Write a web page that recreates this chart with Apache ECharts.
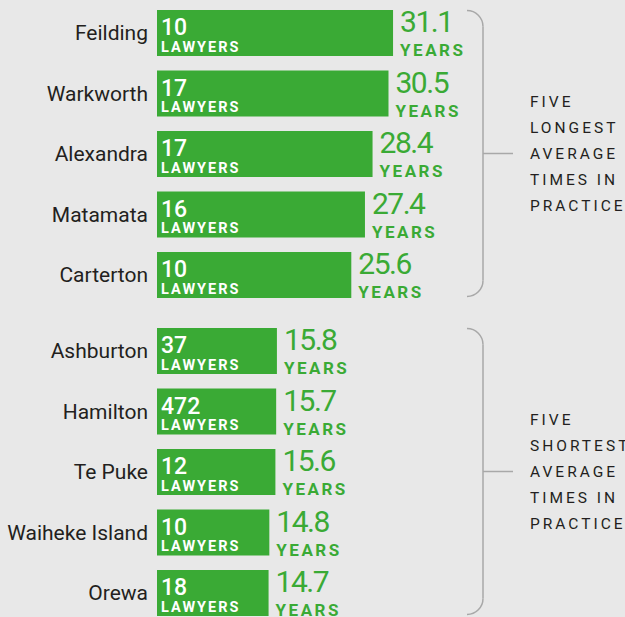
<!DOCTYPE html>
<html>
<head>
<meta charset="utf-8">
<script src="https://cdn.jsdelivr.net/npm/echarts@6/dist/echarts.min.js"></script>
<style>
  html, body { margin: 0; padding: 0; background: #e8e8e8; }
  #chart { width: 625px; height: 617px; }
  /* tracking for the spaced labels (SVG renderer) */
  #chart text[style*="30px"] { letter-spacing: -1.5px; }
  #chart text[style*="14.5px"] { letter-spacing: 2px; }
  #chart text[style*="17px"] { letter-spacing: 2.5px; }
  #chart text[style*="15.5px"] { letter-spacing: 3px; }
</style>
</head>
<body>
<div id="chart"></div>
<script>
// Towns with the five longest average times in practice
const longestTowns = ['Feilding', 'Warkworth', 'Alexandra', 'Matamata', 'Carterton'];
const longestYears = [31.1, 30.5, 28.4, 27.4, 25.6];
const longestLawyers = [10, 17, 17, 16, 10];

// Towns with the five shortest average times in practice
const shortestTowns = ['Ashburton', 'Hamilton', 'Te Puke', 'Waiheke Island', 'Orewa'];
const shortestYears = [15.8, 15.7, 15.6, 14.8, 14.7];
const shortestLawyers = [37, 472, 12, 10, 18];

const longestCaption = ['FIVE', 'LONGEST', 'AVERAGE', 'TIMES IN', 'PRACTICE'];
const shortestCaption = ['FIVE', 'SHORTEST', 'AVERAGE', 'TIMES IN', 'PRACTICE'];

const GREEN = '#3aaa35';
const INK = '#231f20';
const BRACKET = '#a8a8a8';
const PITCH = 60.5;         // distance between neighbouring bar centres
const BAR = 46;             // bar thickness
const GRID_LEFT = 157;
const X_MAX = 40;
const PX_PER_YEAR = 7.59;
const firstCentres = [33, 351];   // centre of the first bar in each group

const groups = [
  { towns: longestTowns, years: longestYears, lawyers: longestLawyers, caption: longestCaption },
  { towns: shortestTowns, years: shortestYears, lawyers: shortestLawyers, caption: shortestCaption }
];

const grid = [], xAxis = [], yAxis = [], series = [], graphic = [];

groups.forEach((g, i) => {
  // categories sit on the grid edges (boundaryGap: false), one pitch apart
  grid.push({ left: GRID_LEFT, top: firstCentres[i], width: X_MAX * PX_PER_YEAR, height: PITCH * (g.towns.length - 1) });
  xAxis.push({ type: 'value', gridIndex: i, min: 0, max: X_MAX, show: false });
  yAxis.push({
    type: 'category', gridIndex: i, inverse: true, boundaryGap: false, data: g.towns,
    axisLine: { show: false }, axisTick: { show: false }, splitLine: { show: false },
    axisLabel: { margin: 9, color: INK, fontFamily: 'Roboto', fontSize: 21 }
  });
  // bars with the average years label on the right
  series.push({
    type: 'bar', name: 'Average years in practice', xAxisIndex: i, yAxisIndex: i,
    data: g.years, barWidth: BAR, barGap: '-100%',
    itemStyle: { color: GREEN },
    label: {
      show: true, position: 'right', distance: 7, align: 'left',
      formatter: p => '{v|' + p.value.toFixed(1) + '}\n{y|YEARS}',
      rich: {
        v: { fontFamily: 'Roboto', fontSize: 30, fontWeight: 400, lineHeight: 34, color: GREEN },
        y: { fontFamily: 'Roboto', fontSize: 17, fontWeight: 'bold', lineHeight: 23, color: GREEN }
      }
    },
    silent: true
  });
  // overlay carrying the number of lawyers inside each bar
  series.push({
    type: 'bar', name: 'Lawyers', xAxisIndex: i, yAxisIndex: i,
    data: g.years, barWidth: BAR, barGap: '-100%',
    itemStyle: { color: 'transparent' },
    label: {
      show: true, position: 'insideLeft', distance: 4, align: 'left',
      formatter: p => '{n|' + g.lawyers[p.dataIndex] + '}\n{l|LAWYERS}',
      rich: {
        n: { fontFamily: 'Roboto', fontSize: 23, fontWeight: 500, lineHeight: 28, color: '#ffffff' },
        l: { fontFamily: 'Roboto', fontSize: 14.5, fontWeight: 'bold', lineHeight: 11, color: '#ffffff' }
      }
    },
    silent: true
  });

  // bracket grouping the five rows, with its caption
  const barTop = firstCentres[i] - BAR / 2;
  const barBottom = firstCentres[i] + PITCH * (g.towns.length - 1) + BAR / 2;
  const y0 = barTop + 0.5, y1 = barBottom - 1.5, mid = (y0 + y1) / 2;
  const xs = 467, xv = 483, r = xv - xs;
  const stroke = { stroke: BRACKET, lineWidth: 1.5, fill: 'none' };
  graphic.push(
    { type: 'arc', silent: true, shape: { cx: xs, cy: y0 + r, r, startAngle: -Math.PI / 2, endAngle: 0, clockwise: true }, style: stroke },
    { type: 'line', silent: true, shape: { x1: xv, y1: y0 + r, x2: xv, y2: y1 - r }, style: stroke },
    { type: 'arc', silent: true, shape: { cx: xs, cy: y1 - r, r, startAngle: 0, endAngle: Math.PI / 2, clockwise: true }, style: stroke },
    { type: 'line', silent: true, shape: { x1: xv, y1: mid, x2: xv + 30, y2: mid }, style: stroke },
    {
      type: 'text', silent: true, x: 530, y: mid,
      style: {
        text: g.caption.join('\n'), fill: INK,
        font: '15.5px Roboto', lineHeight: 26,
        align: 'left', verticalAlign: 'middle'
      }
    }
  );
});

const chart = echarts.init(document.getElementById('chart'), null, { renderer: 'svg' });
chart.setOption({
  backgroundColor: '#e8e8e8',
  animation: false,
  grid, xAxis, yAxis, series, graphic
});
</script>
</body>
</html>
